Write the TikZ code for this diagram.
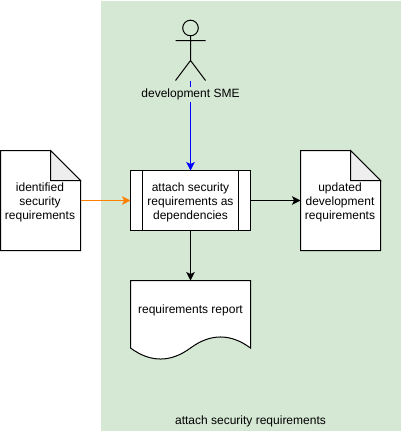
\documentclass[tikz,border=0pt]{standalone}
\usepackage{fontspec}
\setmainfont{Liberation Sans}
\usetikzlibrary{arrows.meta}
\definecolor{swim}{HTML}{D5E8D4}
\definecolor{foldc}{HTML}{EEEEEE}
\definecolor{flowblue}{HTML}{0000FF}
\definecolor{floworange}{HTML}{FF8000}
\tikzset{
  line/.style={draw=black,line width=1pt,line join=miter},
  flow/.style={line width=1pt,-{Stealth[length=8.5pt,width=8.5pt,inset=2pt]}},
  txt/.style={font=\fontsize{12}{14}\selectfont,align=center,inner sep=0pt},
  box/.style={minimum width=#1,inner sep=0pt,outer sep=0pt},
  docbox/.style={minimum width=80pt,minimum height=100pt,inner sep=0pt,outer sep=0pt},
}
\begin{document}
\begin{tikzpicture}[x=1pt,y=-1pt]
\useasboundingbox (0,0) rectangle (401,431);
\fill[white] (0,0) rectangle (401,431);
\fill[swim] (100.5,0.5) rectangle (401,430.5);
% left document
\node[docbox] (idoc) at (40.5,200.5) {};
\draw[line,fill=white] (idoc.north west) -- (50.5,150.5) -- (80.5,180.5) -- (idoc.south east) -- (idoc.south west) -- cycle;
\draw[line,fill=foldc] (50.5,150.5) -- (80.5,180.5) -- (50.5,180.5) -- cycle;
\node[txt] at (40,202) {identified\\security\\requirements};
% right document
\node[docbox] (udoc) at (340.5,200.5) {};
\draw[line,fill=white] (udoc.north west) -- (350.5,150.5) -- (380.5,180.5) -- (udoc.south east) -- (udoc.south west) -- cycle;
\draw[line,fill=foldc] (350.5,150.5) -- (380.5,180.5) -- (350.5,180.5) -- cycle;
\node[txt] at (340,202) {updated\\development\\requirements};
% process
\node[draw=black,line width=1pt,fill=white,minimum width=120pt,minimum height=60pt,inner sep=0pt,outer sep=0pt] (proc) at (190.5,200.5) {};
\draw[line] (142.5,170.5) -- (142.5,230.5) (238.5,170.5) -- (238.5,230.5);
\node[txt] at (190.5,202) {attach security\\requirements as\\dependencies};
% report
\node[box=120pt,minimum height=68pt] (rep) at (190.5,314.5) {};
\draw[line,fill=white] (130.5,280.5) -- (250.5,280.5) -- (250.5,348)
  .. controls (230.5,333.3) and (210.5,333.3) .. (190.5,348)
  .. controls (170.5,362.7) and (150.5,362.7) .. (130.5,348) -- cycle;
\node[txt] at (190.5,310) {requirements report};
% actor
\node[box=30pt,minimum height=60pt] (actor) at (190.5,50.5) {};
\draw[line] (190.5,28) circle (7.8);
\draw[line] (190.5,36) -- (190.5,60.5) (175.5,40.5) -- (205.5,40.5)
  (175.5,80.5) -- (190.5,60.5) -- (205.5,80.5);
% connectors
\draw[flow,draw=flowblue] (actor.south) -- (proc.north);
\node[txt,fill=swim,minimum height=15pt] (alabel) at (190.5,94.5) {development SME};
\draw[flow,draw=floworange] (idoc.east |- proc.west) -- (proc.west);
\draw[flow,draw=black] (proc.east) -- (udoc.west);
\draw[flow,draw=black] (proc.south) -- (rep.north);
\node[txt] (title) at (250.5,421) {attach security requirements};
\end{tikzpicture}
\end{document}
